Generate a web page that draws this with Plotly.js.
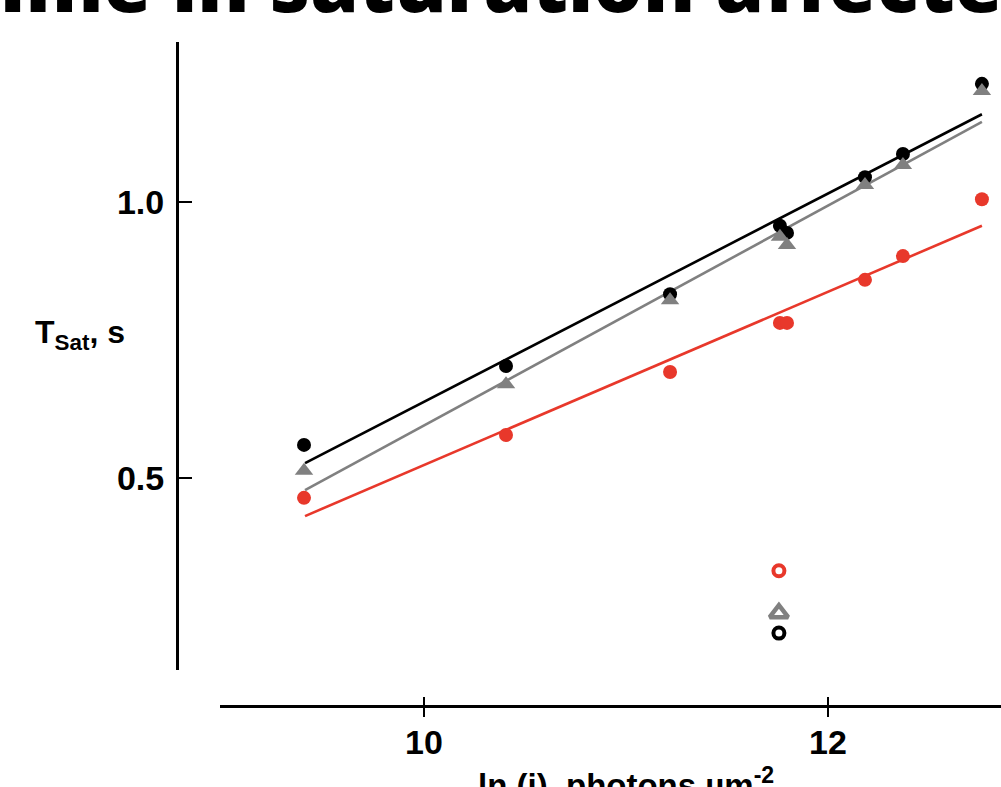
<!DOCTYPE html>
<html>
<head>
<meta charset="utf-8">
<script src="https://cdn.plot.ly/plotly-3.0.1.min.js"></script>
<style>html,body{margin:0;padding:0;background:#fff;}#chart{width:1001px;height:787px;}</style>
</head>
<body>
<div id="chart"></div>
<script>
// ---- data ----
const lnI = [9.406, 10.406, 11.218, 11.762, 11.797, 12.183, 12.371, 12.762];
const tSatBlack = [0.560, 0.703, 0.833, 0.957, 0.944, 1.045, 1.087, 1.214];
const tSatGrey  = [0.513, 0.670, 0.822, 0.937, 0.922, 1.031, 1.067, 1.201];
const tSatRed   = [0.464, 0.578, 0.692, 0.781, 0.781, 0.859, 0.902, 1.005];

const lnIOpen = [11.757];
const openBlack = [0.219];
const openGrey  = [0.255];
const openRed   = [0.332];

const fitX = [9.411, 12.762];
const fitBlack = [0.527, 1.159];
const fitGrey  = [0.478, 1.145];
const fitRed   = [0.431, 0.957];

const xTicks = [10, 12];
const xTickText = ['10', '12'];
const yTicks = [0.5, 1.0];
const yTickText = ['0.5', '1.0'];

const titleText = 'Time in saturation affected by background';
const xTitle = 'ln (i), photons µm<sup>-2</sup>';
const yTitle = 'T<sub>Sat</sub>, s';

// ---- styles ----
const BLACK = '#000000', GREY = '#808080', RED = '#e8382b';
const W = 1001, H = 787;
const px = v => v / W;
const py = v => 1 - v / H;

const lineTrace = (y, c) => ({x: fitX, y: y, type: 'scatter', mode: 'lines',
  line: {color: c, width: 2.6}, xaxis: 'x', yaxis: 'y', hoverinfo: 'skip', cliponaxis: false});
const markTrace = (x, y, c, sym, size, lw) => ({x: x, y: y, type: 'scatter', mode: 'markers',
  marker: {color: c, symbol: sym, size: size, line: {width: lw, color: c}},
  xaxis: 'x2', yaxis: 'y', cliponaxis: false});

const data = [
  lineTrace(fitBlack, BLACK),
  lineTrace(fitGrey, GREY),
  lineTrace(fitRed, RED),
  markTrace(lnI, tSatBlack, BLACK, 'circle', 14, 0),
  markTrace(lnI, tSatGrey, GREY, 'triangle-up', 16, 0),
  markTrace(lnI, tSatRed, RED, 'circle', 14, 0),
  markTrace(lnIOpen, openRed, RED, 'circle-open', 11, 4),
  markTrace(lnIOpen, openGrey, GREY, 'triangle-up-open', 16, 4.5),
  markTrace(lnIOpen, openBlack, BLACK, 'circle-open', 11, 4)
];

const xRange = [10 - 204/202, 10 + 577/202];
const yRange = [0.5 - 192/552, 1.0 + 160/552];
const tickFont = {family: 'Liberation Sans, Arial, sans-serif', size: 34, color: BLACK, weight: 'bold'};

const layout = {
  width: W, height: H,
  margin: {l: 0, r: 0, t: 0, b: 0},
  paper_bgcolor: '#fff', plot_bgcolor: '#fff',
  showlegend: false,
  xaxis: {
    domain: [px(220), 1], anchor: 'free', position: py(706),
    range: xRange, showgrid: false, zeroline: false,
    showline: true, linecolor: BLACK, linewidth: 2.5,
    ticks: 'outside', ticklen: 9, tickwidth: 2.5, tickcolor: BLACK,
    tickvals: xTicks, ticktext: xTickText, tickfont: tickFont, ticklabelstandoff: -3
  },
  xaxis2: {
    domain: [px(220), 1], anchor: 'free', position: py(706), overlaying: 'x', side: 'top',
    range: xRange, showgrid: false, zeroline: false, showline: false,
    ticks: 'outside', ticklen: 9, tickwidth: 2.5, tickcolor: BLACK,
    tickvals: xTicks, showticklabels: false
  },
  yaxis: {
    domain: [py(670), py(42)], anchor: 'free', position: px(177),
    range: yRange, showgrid: false, zeroline: false,
    showline: true, linecolor: BLACK, linewidth: 2.5,
    ticks: 'inside', ticklen: 13, tickwidth: 2.5, tickcolor: BLACK,
    tickvals: yTicks, ticktext: yTickText, tickfont: tickFont, ticklabelstandoff: 5
  },
  annotations: [
    {text: titleText, xref: 'paper', yref: 'paper', x: px(-48), y: py(37),
     xanchor: 'left', yanchor: 'bottom', showarrow: false,
     font: {family: 'Open Sans, sans-serif', size: 78, color: BLACK, weight: 800}},
    {text: yTitle, xref: 'paper', yref: 'paper', x: px(80), y: py(334),
     xanchor: 'center', yanchor: 'middle', showarrow: false,
     font: {family: 'Liberation Sans, Arial, sans-serif', size: 32, color: BLACK, weight: 'bold'}},
    {text: xTitle, xref: 'paper', yref: 'paper', x: px(626), y: py(760),
     xanchor: 'center', yanchor: 'top', showarrow: false,
     font: {family: 'Liberation Sans, Arial, sans-serif', size: 33, color: BLACK, weight: 'bold'}}
  ]
};

Plotly.newPlot('chart', data, layout, {displayModeBar: false, staticPlot: true});
</script>
</body>
</html>
